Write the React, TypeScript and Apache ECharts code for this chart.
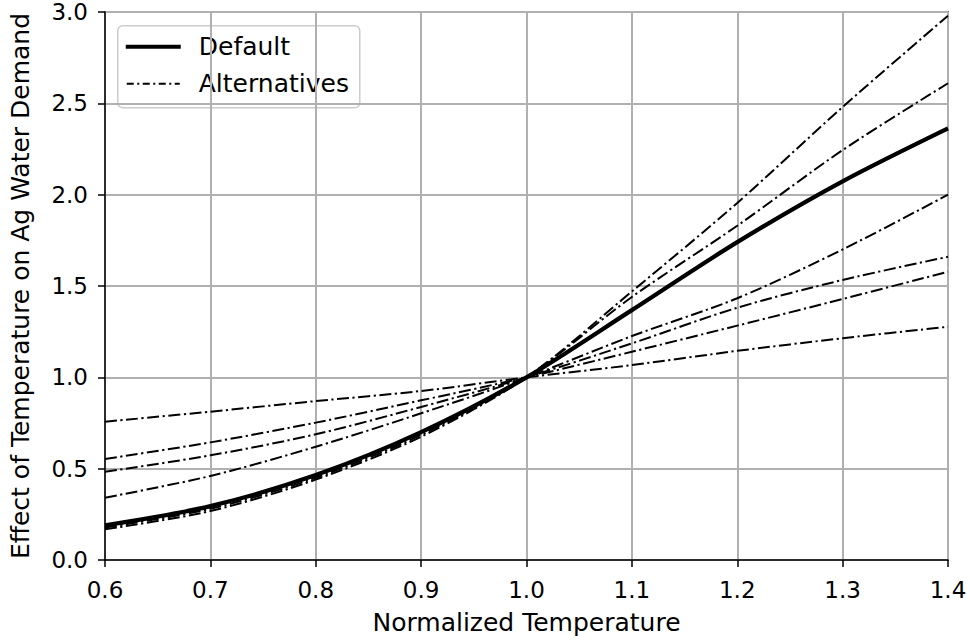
import React, { useEffect, useRef } from "react";
import * as echarts from "echarts";

const temps = [0.6, 0.7, 0.8, 0.9, 1.0, 1.1, 1.2, 1.3, 1.4];
const defaultVals = [0.19, 0.295, 0.465, 0.70, 1.0, 1.368, 1.74, 2.073, 2.363];
const alt1 = [0.168, 0.268, 0.44, 0.675, 1.0, 1.47, 1.955, 2.48, 2.98];
const alt2 = [0.178, 0.28, 0.45, 0.685, 1.0, 1.44, 1.83, 2.244, 2.61];
const alt3 = [0.341, 0.46, 0.62, 0.803, 1.0, 1.226, 1.433, 1.70, 2.0];
const alt4 = [0.483, 0.573, 0.688, 0.838, 1.0, 1.186, 1.381, 1.533, 1.66];
const alt5 = [0.553, 0.644, 0.752, 0.874, 1.0, 1.14, 1.283, 1.429, 1.578];
const alt6 = [0.757, 0.812, 0.870, 0.925, 1.0, 1.067, 1.145, 1.214, 1.277];
const alternatives = [alt1, alt2, alt3, alt4, alt5, alt6];
const xTicks = [0.6, 0.7, 0.8, 0.9, 1.0, 1.1, 1.2, 1.3, 1.4];
const yTicks = [0.0, 0.5, 1.0, 1.5, 2.0, 2.5, 3.0];

const FONT = "DejaVu Sans";
const DASHDOT = [12, 3.5, 2.2, 3.5];

export default function App() {
  const ref = useRef<HTMLDivElement>(null);
  useEffect(() => {
    if (!ref.current) return;
    const chart = echarts.init(ref.current, undefined, { renderer: "svg" });
    const pairs = (ys: number[]) => temps.map((t, i) => [t, ys[i]]);
    const series: any[] = alternatives.map((ys) => ({
      name: "Alternatives",
      type: "line",
      data: pairs(ys),
      showSymbol: false,
      symbol: "none",
      smooth: 0.3,
      z: 2,
      lineStyle: { color: "#000", width: 2, type: DASHDOT },
    }));
    series.push({
      name: "Default",
      type: "line",
      data: pairs(defaultVals),
      showSymbol: false,
      symbol: "none",
      smooth: 0.3,
      z: 3,
      lineStyle: { color: "#000", width: 4.2 },
    });
    const option: any = {
      animation: false,
      textStyle: { fontFamily: FONT },
      grid: {
        left: 104,
        top: 12,
        width: 844,
        height: 548,
        show: true,
        borderColor: "#000",
        borderWidth: 1.5,
        backgroundColor: "#fff",
      },
      xAxis: {
        type: "value",
        min: xTicks[0],
        max: xTicks[xTicks.length - 1],
        interval: 0.1,
        name: "Normalized Temperature",
        nameLocation: "middle",
        nameGap: 50,
        nameTextStyle: { fontFamily: FONT, fontSize: 25, color: "#000" },
        axisLine: { show: true, onZero: false, lineStyle: { color: "#000", width: 1.5 } },
        axisTick: { show: true, inside: false, length: 7, lineStyle: { color: "#000", width: 1.5 } },
        axisLabel: {
          fontFamily: FONT,
          fontSize: 23,
          color: "#000",
          margin: 18,
          formatter: (v: number) => v.toFixed(1),
        },
        splitLine: { show: true, lineStyle: { color: "#b0b0b0", width: 2 } },
      },
      yAxis: {
        type: "value",
        min: yTicks[0],
        max: yTicks[yTicks.length - 1],
        interval: 0.5,
        name: "Effect of Temperature on Ag Water Demand",
        nameLocation: "middle",
        nameGap: 72,
        nameTextStyle: { fontFamily: FONT, fontSize: 25, color: "#000" },
        axisLine: { show: true, onZero: false, lineStyle: { color: "#000", width: 1.5 } },
        axisTick: { show: true, inside: false, length: 7, lineStyle: { color: "#000", width: 1.5 } },
        axisLabel: {
          fontFamily: FONT,
          fontSize: 23,
          color: "#000",
          margin: 17,
          formatter: (v: number) => v.toFixed(1),
        },
        splitLine: { show: true, lineStyle: { color: "#b0b0b0", width: 2 } },
      },
      series,
      graphic: [
        {
          type: "group",
          left: 117,
          top: 25,
          z: 100,
          children: [
            {
              type: "rect",
              shape: { x: 0, y: 0, width: 242, height: 82, r: 5 },
              style: { fill: "rgba(255,255,255,0.8)", stroke: "#cccccc", lineWidth: 1.5 },
            },
            {
              type: "line",
              shape: { x1: 8, y1: 21, x2: 63, y2: 21 },
              style: { stroke: "#000", lineWidth: 4.2 },
            },
            {
              type: "text",
              x: 81,
              y: 21,
              style: {
                text: "Default",
                fontFamily: FONT,
                fontSize: 25,
                fill: "#000",
                verticalAlign: "middle",
                align: "left",
              },
            },
            {
              type: "line",
              shape: { x1: 9, y1: 58, x2: 62, y2: 58 },
              style: { stroke: "#000", lineWidth: 1.8, lineDash: [7, 3.5, 2, 3.5] },
            },
            {
              type: "text",
              x: 81,
              y: 58,
              style: {
                text: "Alternatives",
                fontFamily: FONT,
                fontSize: 25,
                fill: "#000",
                verticalAlign: "middle",
                align: "left",
              },
            },
          ],
        },
      ],
    };
    chart.setOption(option);
    return () => chart.dispose();
  }, []);
  return (
    <div
      ref={ref}
      style={{ position: "absolute", left: 0, top: 0, width: 970, height: 644, background: "#fff" }}
    />
  );
}
